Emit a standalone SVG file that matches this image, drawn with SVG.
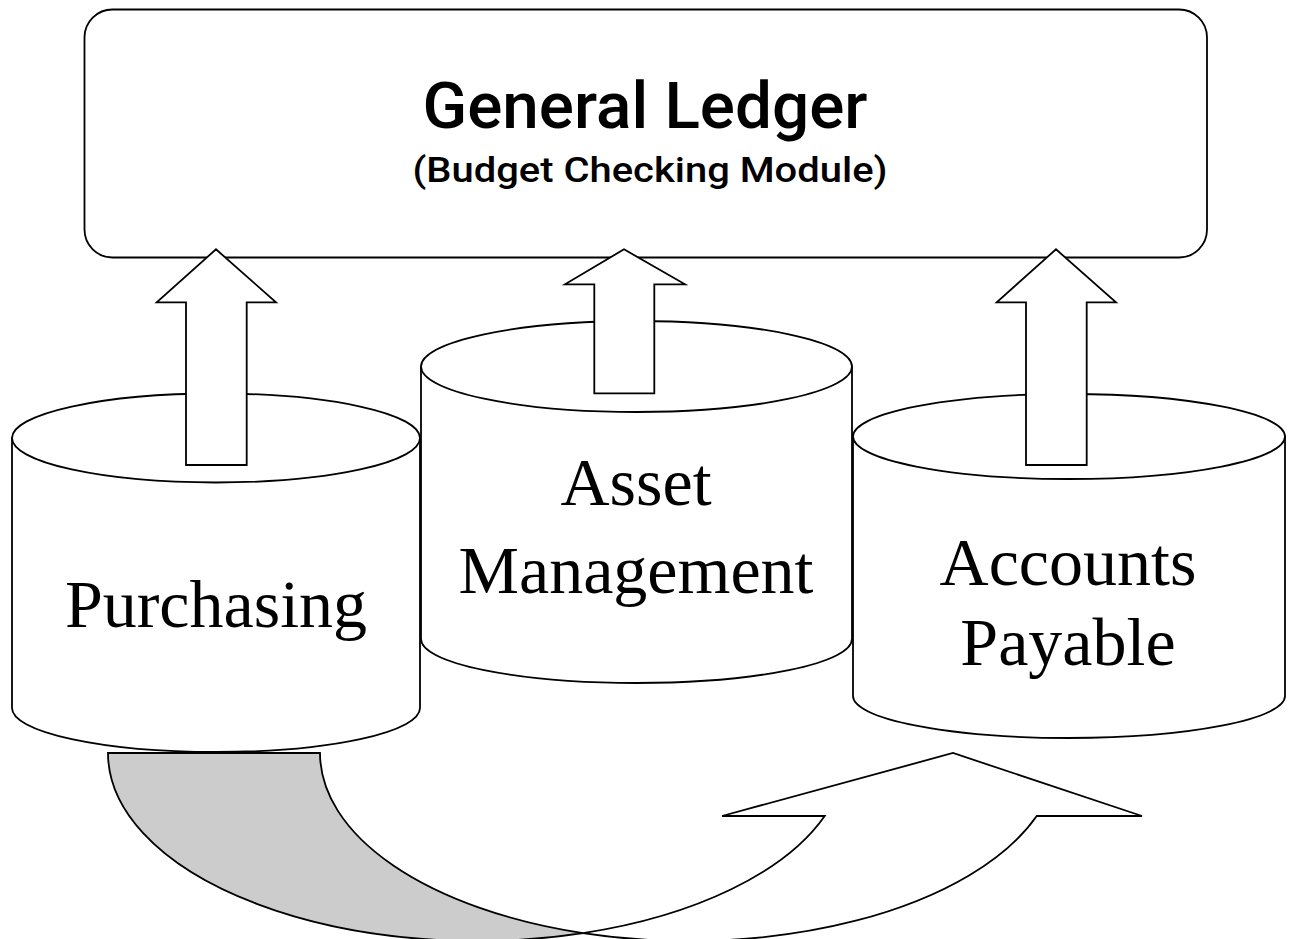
<svg xmlns="http://www.w3.org/2000/svg" width="1289" height="939" viewBox="0 0 1289 939">
  <style>
    .ln { stroke: #000; stroke-width: 1.8; stroke-linejoin: miter; }
    .wf { fill: #fff; }
    .gf { fill: #cccccc; }
    .sans { font-family: Roboto, "Liberation Sans", Arial, sans-serif; font-weight: 500; fill: #000; text-anchor: middle; }
    .serif { font-family: "Liberation Serif", "Times New Roman", serif; font-size: 68px; fill: #000; text-anchor: middle; }
  </style>

  <rect width="1289" height="939" fill="#fff"/>

  <!-- General Ledger box -->
  <g id="general-ledger">
    <rect class="ln wf" x="84.5" y="9.5" width="1122.5" height="248" rx="28" ry="28"/>
    <text class="sans" x="645" y="128" font-size="64" textLength="445" lengthAdjust="spacingAndGlyphs">General Ledger</text>
    <text class="sans" x="650" y="182" font-size="35" textLength="475" lengthAdjust="spacingAndGlyphs">(Budget Checking Module)</text>
  </g>

  <!-- Asset Management cylinder (behind the two side cylinders) -->
  <g id="asset-management">
    <path class="ln wf" d="M421,366.5 L421,639 A215.5,44 0 0 0 852,639 L852,366.5 Z"/>
    <ellipse class="ln wf" cx="636.5" cy="366.5" rx="215.5" ry="45.5"/>
    <text class="serif" x="636" y="505">Asset</text>
    <text class="serif" x="636" y="593">Management</text>
  </g>

  <!-- Purchasing cylinder -->
  <g id="purchasing">
    <path class="ln wf" d="M12,438 L12,708 A204,44 0 0 0 420,708 L420,438 Z"/>
    <ellipse class="ln wf" cx="216" cy="438" rx="204" ry="44.5"/>
    <text class="serif" x="216" y="627">Purchasing</text>
  </g>

  <!-- Accounts Payable cylinder -->
  <g id="accounts-payable">
    <path class="ln wf" d="M853,436.5 L853,696 A216,42 0 0 0 1285,696 L1285,436.5 Z"/>
    <ellipse class="ln wf" cx="1069" cy="436.5" rx="216" ry="42.5"/>
    <text class="serif" x="1068" y="585">Accounts</text>
    <text class="serif" x="1068" y="665">Payable</text>
  </g>

  <!-- Connectors: block arrows up to the ledger and the curved arrow below -->
  <g id="connectors">
    <path class="ln wf" d="M186,465 L186,302.3 L156.7,302.3 L216,249.3 L276,302.3 L246.7,302.3 L246.7,465 Z"/>
    <path class="ln wf" d="M594.3,393.3 L594.3,284.3 L565,284.3 L624,249.3 L685,284.3 L654.3,284.3 L654.3,393.3 Z"/>
    <path class="ln wf" d="M1026,465 L1026,302.3 L996.7,302.3 L1056,249.3 L1116,302.3 L1086.7,302.3 L1086.7,465 Z"/>

    <!-- curved arrow: shaded back band and light front band with head -->
    <path class="ln gf" d="M108,753 L320,753 A369,188 0 0 0 583,933.1 A369,188 0 0 1 108,753 Z"/>
    <path class="ln wf" d="M824.7,816 L722,816 L953,753 L1142,816 L1036.7,816 A369,188 0 0 1 583,933.1 A369,188 0 0 0 824.7,816 Z"/>
  </g>
</svg>
